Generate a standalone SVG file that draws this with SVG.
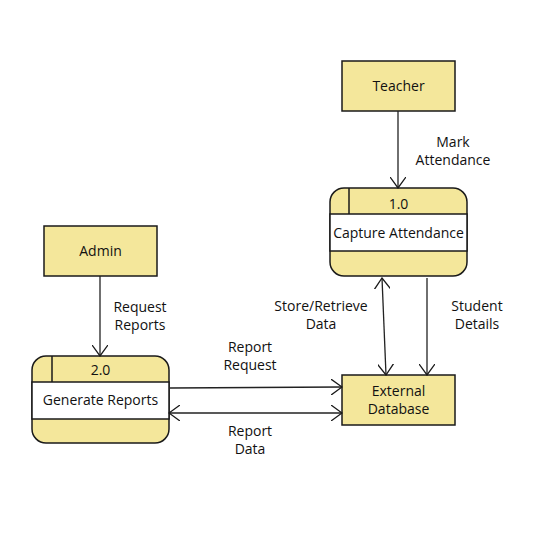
<svg xmlns="http://www.w3.org/2000/svg" width="545" height="536" viewBox="0 0 545 536">
<defs>
<marker id="arr" viewBox="0 0 12 16" refX="11" refY="8" markerWidth="12" markerHeight="16" markerUnits="userSpaceOnUse" orient="auto-start-reverse">
<path d="M0,0 L11,8 L0,16" fill="none" stroke="#1a1a1a" stroke-width="1.3"/>
</marker>
<style>
.box{fill:#F4E79B;stroke:#1a1a1a;stroke-width:1.5}
.mid{fill:#ffffff;stroke:#1a1a1a;stroke-width:1.5}
.ln{stroke:#1a1a1a;stroke-width:1.5;fill:none}
.t{font-family:"Open Sans","Noto Sans",sans-serif;font-size:14px;fill:#111;text-anchor:middle;dominant-baseline:central}
.c{stroke:#222;stroke-width:1.3;fill:none;marker-end:url(#arr)}
.b{marker-start:url(#arr)}
</style>
</defs>
<rect width="545" height="536" fill="#ffffff"/>
<g id="teacher"><rect class="box" x="342" y="61" width="113" height="50"/><text class="t" x="398.5" y="85">Teacher</text></g>
<g id="admin"><rect class="box" x="44" y="226" width="113" height="50"/><text class="t" x="100.5" y="250">Admin</text></g>
<g id="db"><rect class="box" x="342" y="375" width="113" height="50"/><text class="t" x="398.5" y="390">External</text><text class="t" x="398.5" y="408">Database</text></g>
<g id="p1">
<rect class="box" x="330" y="188" width="137" height="88" rx="14"/>
<rect class="mid" x="330" y="214" width="137" height="37"/>
<line class="ln" x1="349" y1="188" x2="349" y2="214"/>
<text class="t" x="398.5" y="203">1.0</text>
<text class="t" x="398.5" y="232">Capture Attendance</text>
</g>
<g id="p2">
<rect class="box" x="32" y="356" width="137" height="87" rx="14"/>
<rect class="mid" x="32" y="382" width="137" height="37"/>
<line class="ln" x1="52" y1="356" x2="52" y2="382"/>
<text class="t" x="100.5" y="369">2.0</text>
<text class="t" x="100.5" y="399">Generate Reports</text>
</g>
<g id="connectors">
<line class="c" x1="398" y1="111" x2="398" y2="188"/>
<line class="c" x1="100" y1="276" x2="100" y2="356"/>
<line class="c b" x1="382" y1="278" x2="386" y2="375"/>
<line class="c" x1="427" y1="278" x2="427" y2="375"/>
<line class="c" x1="170" y1="388" x2="342" y2="387"/>
<line class="c b" x1="169" y1="413" x2="342" y2="413"/>
</g>
<g id="labels">
<text class="t" x="453" y="141">Mark</text><text class="t" x="453" y="159">Attendance</text>
<text class="t" x="140" y="306">Request</text><text class="t" x="140" y="324">Reports</text>
<text class="t" x="321" y="305">Store/Retrieve</text><text class="t" x="321" y="323">Data</text>
<text class="t" x="477" y="305">Student</text><text class="t" x="477" y="323">Details</text>
<text class="t" x="250" y="346">Report</text><text class="t" x="250" y="364">Request</text>
<text class="t" x="250" y="430">Report</text><text class="t" x="250" y="448">Data</text>
</g>
</svg>
